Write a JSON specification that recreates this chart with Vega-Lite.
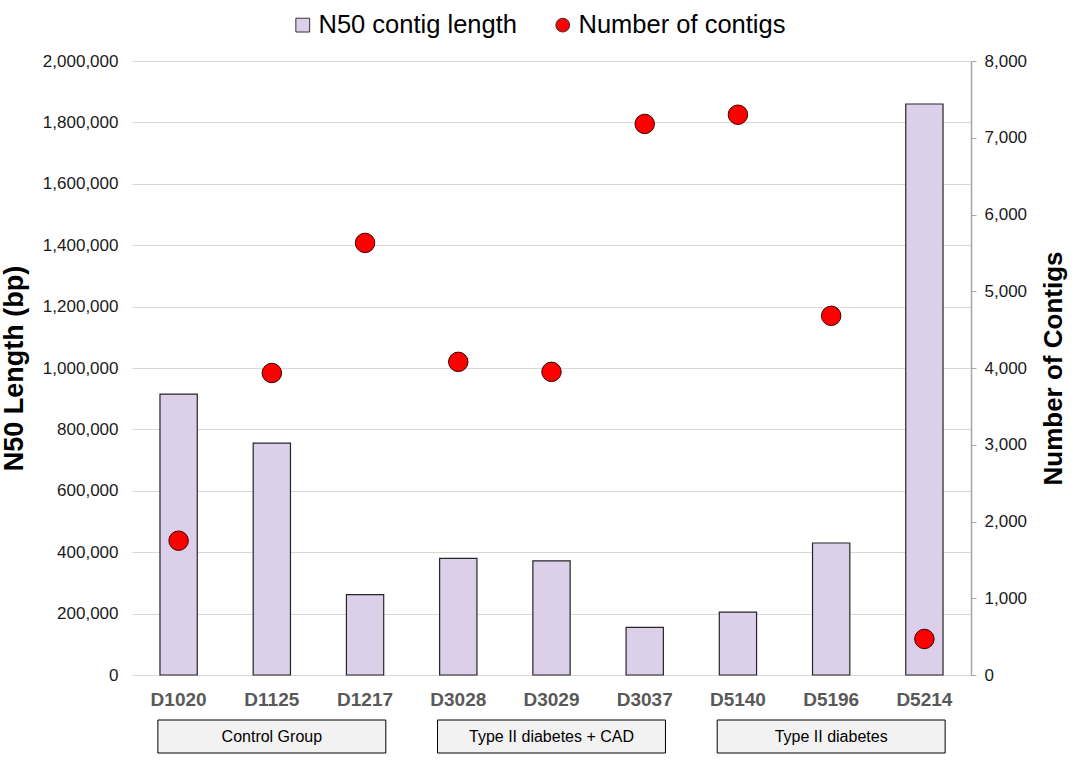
{
  "$schema": "https://vega.github.io/schema/vega-lite/v6.json",
  "padding": {"left": 0, "top": 12, "right": 5, "bottom": 5},
  "background": "white",
  "config": {
    "font": "Liberation Sans",
    "view": {"stroke": null},
    "legend": {
      "orient": "none",
      "legendX": 158,
      "legendY": -49,
      "direction": "horizontal",
      "labelFontSize": 25.5,
      "labelColor": "#000",
      "labelOffset": 3,
      "symbolSize": 190,
      "symbolStrokeColor": "#333",
      "symbolStrokeWidth": 1,
      "columnPadding": 33,
      "labelLimit": 500
    }
  },
  "data": {
    "values": [
      {"sample": "D1020", "group": "Control Group", "n50": 915000, "contigs": 1750},
      {"sample": "D1125", "group": "Control Group", "n50": 755000, "contigs": 3935},
      {"sample": "D1217", "group": "Control Group", "n50": 262000, "contigs": 5630},
      {"sample": "D3028", "group": "Type II diabetes + CAD", "n50": 380000, "contigs": 4080},
      {"sample": "D3029", "group": "Type II diabetes + CAD", "n50": 372000, "contigs": 3950},
      {"sample": "D3037", "group": "Type II diabetes + CAD", "n50": 155000, "contigs": 7180},
      {"sample": "D5140", "group": "Type II diabetes", "n50": 205000, "contigs": 7300},
      {"sample": "D5196", "group": "Type II diabetes", "n50": 430000, "contigs": 4680},
      {"sample": "D5214", "group": "Type II diabetes", "n50": 1860000, "contigs": 470}
    ]
  },
  "vconcat": [
    {
      "width": 839,
      "height": 614,
      "encoding": {
        "x": {
          "field": "sample",
          "type": "nominal",
          "sort": null,
          "scale": {"paddingInner": 0.6, "paddingOuter": 0.3},
          "axis": {
            "title": null,
            "labelAngle": 0,
            "domain": false,
            "ticks": false,
            "labelFontSize": 19,
            "labelFontWeight": "bold",
            "labelColor": "#595959",
            "labelPadding": 15
          }
        }
      },
      "layer": [
        {
          "mark": {"type": "bar", "stroke": "#262626", "strokeWidth": 1.2},
          "encoding": {
            "y": {
              "field": "n50",
              "type": "quantitative",
              "scale": {"domain": [0, 2000000]},
              "axis": {
                "title": "N50 Length (bp)",
                "titleFontSize": 27,
                "titleFontWeight": "bold",
                "titleColor": "#000",
                "titlePadding": 14,
                "values": [0, 200000, 400000, 600000, 800000, 1000000, 1200000, 1400000, 1600000, 1800000, 2000000],
                "format": ",d",
                "grid": true,
                "gridColor": "#D9D9D9",
                "domain": false,
                "ticks": false,
                "labelFontSize": 17,
                "labelColor": "#1a1a1a",
                "labelPadding": 14
              }
            },
            "fill": {
              "datum": "N50 contig length",
              "type": "nominal",
              "scale": {"domain": ["N50 contig length", "Number of contigs"], "range": ["#DCCFEA", "#FF0000"]},
              "legend": {
                "title": null,
                "encode": {
                  "symbols": {
                    "update": {
                      "shape": {"signal": "datum.value === 'N50 contig length' ? 'square' : 'circle'"},
                      "stroke": {"value": "#333"},
                      "strokeWidth": {"value": 1}
                    }
                  }
                }
              }
            }
          }
        },
        {
          "mark": {"type": "point", "shape": "circle", "filled": true, "size": 380, "stroke": "#3a0000", "strokeWidth": 1, "opacity": 1},
          "encoding": {
            "y": {
              "field": "contigs",
              "type": "quantitative",
              "scale": {"domain": [0, 8000]},
              "axis": {
                "orient": "right",
                "title": "Number of Contigs",
                "titleAngle": 270,
                "titleBaseline": "top",
                "titleFontSize": 26,
                "titleFontWeight": "bold",
                "titleColor": "#000",
                "titlePadding": 14,
                "values": [0, 1000, 2000, 3000, 4000, 5000, 6000, 7000, 8000],
                "format": ",d",
                "grid": false,
                "domain": true,
                "domainColor": "#A6A6A6",
                "domainWidth": 1.5,
                "ticks": true,
                "tickColor": "#A6A6A6",
                "tickSize": 5,
                "labelFontSize": 17,
                "labelColor": "#1a1a1a",
                "labelPadding": 8
              }
            },
            "fill": {"datum": "Number of contigs", "type": "nominal"}
          }
        }
      ],
      "resolve": {"scale": {"y": "independent"}}
    },
    {
      "width": 839,
      "height": 33,
      "transform": [{"aggregate": [{"op": "count", "as": "n"}], "groupby": ["group"]}],
      "encoding": {
        "x": {
          "field": "group",
          "type": "nominal",
          "scale": {"domain": ["Control Group", "Type II diabetes + CAD", "Type II diabetes"], "paddingInner": 0.185, "paddingOuter": 0.0925},
          "axis": null
        }
      },
      "layer": [
        {"mark": {"type": "rect", "fill": "#F2F2F2", "stroke": "#000", "strokeWidth": 1}},
        {"mark": {"type": "text", "fontSize": 16, "color": "#000"}, "encoding": {"text": {"field": "group"}}}
      ]
    }
  ],
  "spacing": 10
}
